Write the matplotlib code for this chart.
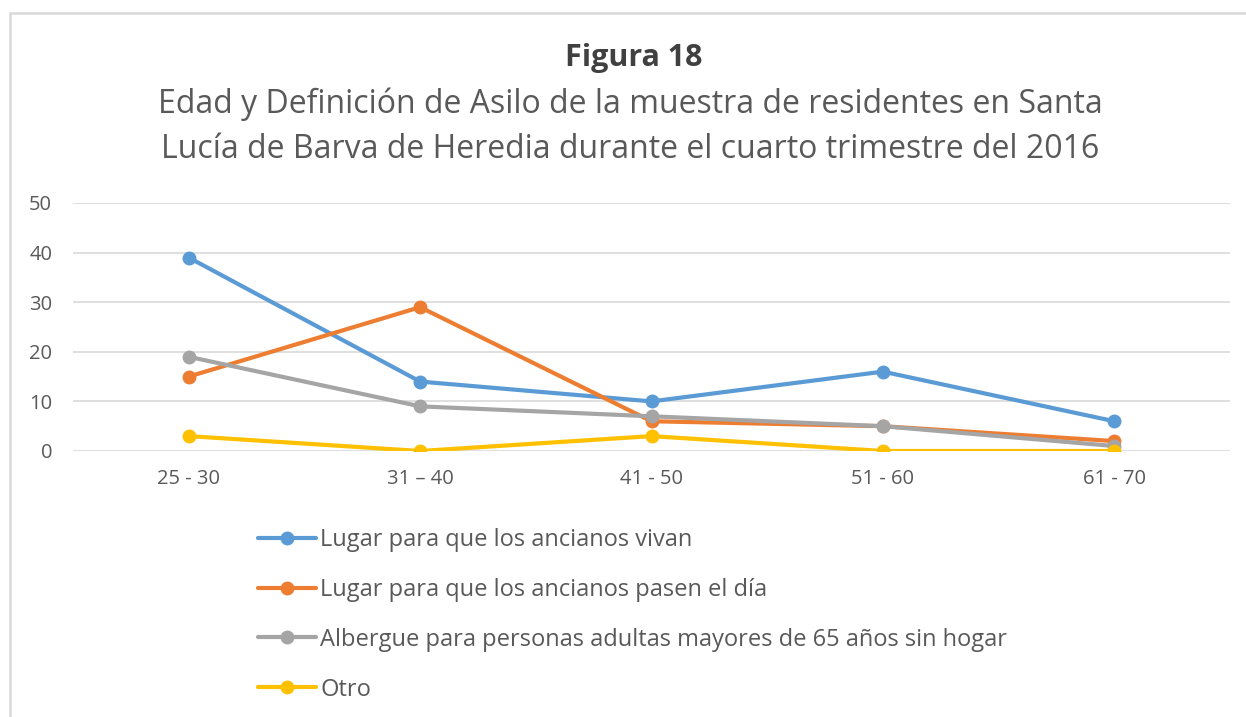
import matplotlib
matplotlib.use("Agg")
import matplotlib.pyplot as plt
from matplotlib.patches import Rectangle

plt.rcParams['font.family'] = ['Open Sans', 'DejaVu Sans']

categories = ["25 - 30", "31 \u2013 40", "41 - 50", "51 - 60", "61 - 70"]
series_names = [
    "Lugar para que los ancianos vivan",
    "Lugar para que los ancianos pasen el día",
    "Albergue para personas adultas mayores de 65 años sin hogar",
    "Otro",
]
vivan = [39, 14, 10, 16, 6]
pasen = [15, 29, 6, 5, 2]
albergue = [19, 9, 7, 5, 1]
otro = [3, 0, 3, 0, 0]
colors = ["#5B9BD5", "#ED7D31", "#A5A5A5", "#FFC000"]
yticks = [0, 10, 20, 30, 40, 50]

W, H = 1246, 717
fig = plt.figure(figsize=(W / 100, H / 100), dpi=100)
fig.patch.set_facecolor("white")

# outer frame
fig.patches.append(Rectangle((10 / W, -0.05), 1.2, 1 - 13 / H + 0.05,
                             transform=fig.transFigure, fill=False,
                             edgecolor="#D9D9D9", linewidth=1.8))

ax = fig.add_axes([73 / W, 1 - 451 / H, (1230 - 73) / W, (451 - 203) / H])
x = list(range(len(categories)))
for vals, name, c in zip([vivan, pasen, albergue, otro], series_names, colors):
    ax.plot(x, vals, color=c, linewidth=3, marker="o", markersize=9,
            label=name, solid_capstyle="round", solid_joinstyle="round")

ax.set_xlim(-0.5, len(categories) - 0.5)
ax.set_ylim(0, 50)
ax.set_yticks(yticks)
ax.set_xticks(x)
ax.set_xticklabels(categories)
ax.tick_params(axis="both", length=0, labelsize=14.5, labelcolor="#595959")
ax.tick_params(axis="y", pad=15)
ax.tick_params(axis="x", pad=13)
ax.grid(axis="y", color="#D9D9D9", linewidth=1.2)
ax.set_axisbelow(True)
for s in ax.spines.values():
    s.set_visible(False)

fig.text(634 / W, 1 - 58 / H, "Figura 18", ha="center", va="center",
         fontsize=22, fontweight="bold", color="#404040")
fig.text(630 / W, 1 - 104 / H,
         "Edad y Definición de Asilo de la muestra de residentes en Santa",
         ha="center", va="center", fontsize=23, color="#595959")
fig.text(630 / W, 1 - 150 / H,
         "Lucía de Barva de Heredia durante el cuarto trimestre del 2016",
         ha="center", va="center", fontsize=23, color="#595959")

handles, labels = ax.get_legend_handles_labels()
leg = fig.legend(handles, labels, loc="upper left",
                 bbox_to_anchor=(246 / W, 1 - 516 / H),
                 frameon=False, ncol=1, fontsize=17, labelcolor="#595959",
                 handlelength=2.45, handletextpad=0.2, labelspacing=1.1,
                 borderpad=0, markerscale=1.0)

fig.savefig("out.png", dpi=100, facecolor="white")
